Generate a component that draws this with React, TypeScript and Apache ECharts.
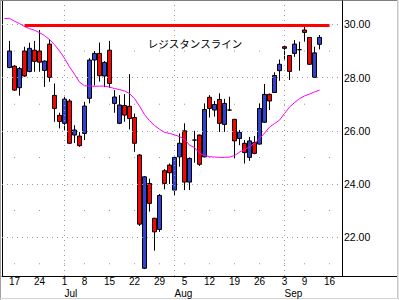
import React, { useEffect, useRef } from "react";
import * as echarts from "echarts";

// Trading days (category axis)
const dates = [
  "2002-06-13", "2002-06-14",
  "2002-06-17", "2002-06-18", "2002-06-19", "2002-06-20", "2002-06-21",
  "2002-06-24", "2002-06-25", "2002-06-26", "2002-06-27", "2002-06-28",
  "2002-07-01", "2002-07-02", "2002-07-03", "2002-07-05",
  "2002-07-08", "2002-07-09", "2002-07-10", "2002-07-11", "2002-07-12",
  "2002-07-15", "2002-07-16", "2002-07-17", "2002-07-18", "2002-07-19",
  "2002-07-22", "2002-07-23", "2002-07-24", "2002-07-25", "2002-07-26",
  "2002-07-29", "2002-07-30", "2002-07-31", "2002-08-01", "2002-08-02",
  "2002-08-05", "2002-08-06", "2002-08-07", "2002-08-08", "2002-08-09",
  "2002-08-12", "2002-08-13", "2002-08-14", "2002-08-15", "2002-08-16",
  "2002-08-19", "2002-08-20", "2002-08-21", "2002-08-22", "2002-08-23",
  "2002-08-26", "2002-08-27", "2002-08-28", "2002-08-29", "2002-08-30",
  "2002-09-03", "2002-09-04", "2002-09-05", "2002-09-06",
  "2002-09-09", "2002-09-10", "2002-09-11", "2002-09-12", "2002-09-13",
  "2002-09-16", "2002-09-17", "2002-09-18",
];

const weekStarts = [
  "2002-06-17", "2002-06-24", "2002-07-01", "2002-07-08", "2002-07-15",
  "2002-07-22", "2002-07-29", "2002-08-05", "2002-08-12", "2002-08-19",
  "2002-08-26", "2002-09-03", "2002-09-09", "2002-09-16",
];
const monthStarts = ["2002-07-01", "2002-08-01", "2002-09-03"];
const monthNames = ["Jul", "Aug", "Sep"];

const firstCandleDate = "2002-06-14";
const opens = [
  28.38, 28.43, 27.62, 29.0, 28.23, 29.03, 29.0, 28.27, 29.26, 27.33,
  26.58, 26.28, 27.12, 25.84, 25.8, 25.9, 27.22, 28.66, 28.91, 28.06,
  29.03, 27.03, 26.28, 26.95, 26.92, 26.5, 25.09, 20.83, 24.02, 22.71,
  22.29, 24.5, 24.71, 23.77, 25.02, 26.0, 24.07, 25.65, 25.84, 25.02,
  27.26, 26.78, 27.18, 26.24, 26.78, 26.43, 25.71, 25.53, 25.0, 25.56,
  25.5, 26.32, 27.37, 27.44, 28.26, 29.16, 28.83, 28.91, 29.05, 29.79,
  29.51, 28.01, 29.25,
];
const highs = [
  29.38, 28.47, 28.4, 29.16, 29.31, 29.38, 29.79, 28.65, 29.44, 27.78,
  26.68, 27.28, 27.19, 26.21, 25.95, 27.09, 28.73, 29.0, 29.32, 28.62,
  29.38, 27.53, 27.34, 27.38, 28.13, 26.65, 25.12, 24.3, 24.2, 22.73,
  23.62, 24.56, 24.77, 25.02, 25.9, 26.28, 25.0, 26.0, 25.86, 27.03,
  27.34, 27.12, 27.41, 27.2, 27.28, 26.45, 26.03, 25.65, 25.77, 25.8,
  27.03, 27.76, 27.4, 28.2, 28.68, 29.22, 28.85, 29.41, 29.35, 29.97,
  29.52, 29.16, 29.6,
];
const lows = [
  28.35, 27.5, 27.32, 28.03, 28.2, 28.22, 28.22, 27.65, 27.84, 26.34,
  26.09, 26.03, 25.5, 25.54, 25.4, 25.65, 27.03, 27.7, 27.85, 27.64,
  27.62, 26.68, 26.25, 26.34, 26.05, 25.21, 22.42, 20.8, 22.96, 21.49,
  22.2, 23.8, 24.0, 23.58, 24.65, 23.77, 23.77, 24.8, 24.68, 25.0,
  26.5, 26.53, 25.96, 25.96, 26.75, 24.96, 25.46, 24.77, 24.87, 25.12,
  25.48, 26.3, 26.78, 27.42, 27.88, 28.68, 27.91, 28.78, 28.26, 29.35,
  28.48, 28.0, 29.06,
];
const closes = [
  29.0, 27.53, 28.34, 28.06, 29.1, 28.61, 28.58, 28.62, 28.01, 26.84,
  26.35, 27.19, 25.53, 26.03, 25.44, 26.93, 28.66, 28.91, 28.07, 28.57,
  27.78, 27.27, 26.97, 26.59, 26.46, 25.53, 22.49, 24.27, 23.27, 22.2,
  23.57, 24.02, 24.42, 25.0, 25.53, 24.07, 24.96, 25.65, 24.74, 26.8,
  26.84, 26.99, 26.28, 27.03, 26.78, 25.62, 25.94, 25.18, 25.62, 25.15,
  26.84, 27.37, 27.12, 28.08, 28.5, 29.1, 28.23, 29.26, 29.05, 29.7,
  28.5, 28.93, 29.51,
];

// Moving average, from the first date
const maValues = [
  30.22, 30.23, 30.12, 30.03, 29.92, 29.84, 29.78, 29.69, 29.58, 29.43,
  29.24, 29.0, 28.73, 28.4, 28.13, 27.83, 27.69, 27.69, 27.67, 27.68,
  27.68, 27.64, 27.59, 27.55, 27.5, 27.4, 27.21, 26.93, 26.61, 26.38,
  26.2, 26.06, 25.94, 25.9, 25.85, 25.78, 25.69, 25.46, 25.37, 25.15,
  25.07, 25.03, 25.01, 25.0, 25.0, 25.01, 25.07, 25.2, 25.29, 25.39,
  25.54, 25.71, 25.91, 26.14, 26.27, 26.4, 26.65, 26.89, 27.06, 27.21,
  27.31, 27.38, 27.46, 27.53,
];

const priceLabels = [22, 24, 26, 28, 30];
const minorLevels = [21, 23, 25, 27, 29];
const yMin = 20.54;
const yMax = 30.88;

const resistance = 29.95;
const resistanceFrom = "2002-06-19";
const resistanceTo = "2002-09-16";
const resistanceLabel = "レジスタンスライン";

const BLUE = "#3040d0";
const RED = "#ff0000";
const GRID_GRAY = "#9a9a9a";
const FONT = "'Liberation Sans', Arial, sans-serif";

export default function App() {
  const ref = useRef<HTMLDivElement>(null);

  useEffect(() => {
    if (!ref.current) return;
    const chart = echarts.init(ref.current, undefined, { renderer: "svg" });

    const start = dates.indexOf(firstCandleDate);
    const candleData = dates.map((_, i) => {
      const j = i - start;
      if (j < 0 || j >= opens.length) return "-";
      return [opens[j], closes[j], lows[j], highs[j]];
    });

    const dots: [string, number][] = [];
    weekStarts.forEach((d) => minorLevels.forEach((v) => dots.push([d, v])));

    const option: any = {
      animation: false,
      backgroundColor: "#ffffff",
      grid: { left: 2, right: 57, top: 1, bottom: 24, containLabel: false },
      xAxis: [
        {
          type: "category",
          data: dates,
          boundaryGap: true,
          axisLine: { show: true, lineStyle: { color: "#000", width: 1 } },
          axisTick: { show: false },
          splitLine: { show: false },
          axisLabel: {
            interval: (_i: number, v: string) => weekStarts.includes(v),
            formatter: (v: string) => String(parseInt(v.slice(8), 10)),
            color: "#000",
            fontSize: 10,
            lineHeight: 9,
            fontFamily: FONT,
            margin: 1.4,
          },
        },
        {
          type: "category",
          data: dates,
          gridIndex: 0,
          position: "bottom",
          offset: 12,
          axisLine: { show: false },
          axisTick: { show: false },
          splitLine: { show: false },
          axisLabel: {
            interval: (_i: number, v: string) => monthStarts.includes(v),
            formatter: (v: string) => monthNames[monthStarts.indexOf(v)] || "",
            align: "left",
            color: "#000",
            fontSize: 10,
            lineHeight: 9,
            fontFamily: FONT,
            margin: 0.7,
          },
        },
      ],
      yAxis: {
        type: "value",
        position: "right",
        min: yMin,
        max: yMax,
        axisLine: { show: true, lineStyle: { color: "#000", width: 1 } },
        axisTick: { show: false },
        splitLine: { show: false },
        axisLabel: {
          customValues: priceLabels,
          formatter: (v: number) => v.toFixed(2),
          color: "#000",
          fontSize: 10.5,
          fontFamily: FONT,
          margin: 2,
        },
      },
      series: [
        {
          type: "scatter",
          data: dots,
          symbol: "rect",
          symbolSize: 1,
          itemStyle: { color: "#808080" },
          silent: true,
          z: 1,
          markLine: {
            silent: true,
            symbol: ["none", "none"],
            label: { show: false },
            lineStyle: { color: GRID_GRAY, type: [1, 4], width: 1 },
            data: [
              ...priceLabels.map((v) => ({ yAxis: v })),
              ...monthStarts.map((d) => ({ xAxis: d })),
            ],
          },
        },
        {
          type: "candlestick",
          data: candleData,
          barWidth: 4,
          z: 2,
          itemStyle: {
            color: BLUE,
            color0: RED,
            borderColor: "#000",
            borderColor0: "#000",
            borderColorDoji: "#000",
            borderWidth: 1,
          },
          markLine: {
            silent: true,
            symbol: ["none", "none"],
            label: { show: false },
            data: [
              [
                {
                  coord: [resistanceFrom, resistance],
                  lineStyle: { color: RED, width: 3, type: "solid" },
                },
                { coord: [resistanceTo, resistance] },
              ],
            ],
          },
        },
        {
          type: "line",
          data: maValues,
          symbol: "none",
          silent: true,
          z: 3,
          lineStyle: { color: "#ff00ff", width: 1 },
        },
      ],
      graphic: [
        { type: "line", shape: { x1: 0, y1: 0.5, x2: 399, y2: 0.5 }, style: { stroke: "#808080", lineWidth: 1 } },
        { type: "line", shape: { x1: 0.5, y1: 0, x2: 0.5, y2: 300 }, style: { stroke: "#a0a0a0", lineWidth: 1 } },
        { type: "line", shape: { x1: 2.5, y1: 1, x2: 2.5, y2: 276 }, style: { stroke: "#000", lineWidth: 1 } },
        { type: "line", shape: { x1: 341, y1: 276.5, x2: 397, y2: 276.5 }, style: { stroke: "#000", lineWidth: 1 } },
        { type: "line", shape: { x1: 397.5, y1: 0, x2: 397.5, y2: 298 }, style: { stroke: "#c8c8c8", lineWidth: 1 } },
        { type: "line", shape: { x1: 398.5, y1: 0, x2: 398.5, y2: 300 }, style: { stroke: "#e4e4e4", lineWidth: 1 } },
        { type: "line", shape: { x1: 0, y1: 298.5, x2: 399, y2: 298.5 }, style: { stroke: "#d4d4d4", lineWidth: 1 } },
        {
          type: "text",
          x: 195,
          y: 43,
          z: 10,
          style: {
            text: resistanceLabel,
            align: "center",
            verticalAlign: "middle",
            fill: "#000",
            fontSize: 10.5,
            fontFamily: "'Noto Sans CJK JP', sans-serif",
          },
        },
      ],
    };

    chart.setOption(option);
    return () => chart.dispose();
  }, []);

  return (
    <div
      ref={ref}
      style={{ position: "fixed", left: 0, top: 0, width: 399, height: 300, background: "#fff" }}
    />
  );
}
